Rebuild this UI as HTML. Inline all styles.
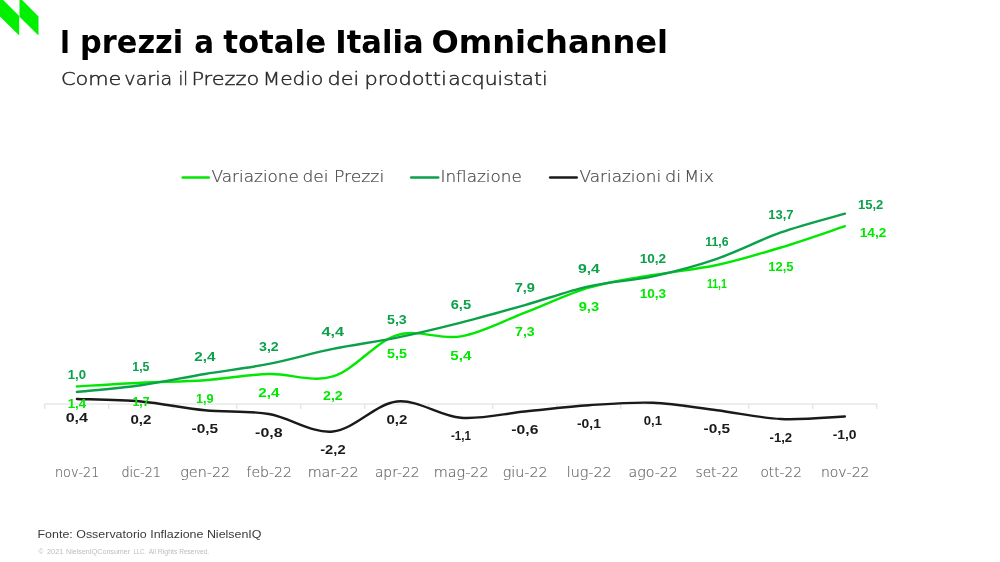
<!DOCTYPE html>
<html lang="it"><head><meta charset="utf-8"><title>I prezzi a totale Italia Omnichannel</title>
<style>
html,body{margin:0;padding:0;background:#fff;}
body{width:1000px;height:562px;overflow:hidden;position:relative;font-family:"Liberation Sans",sans-serif;}
svg{position:absolute;left:0;top:0;display:block}
text{font-family:"Liberation Sans",sans-serif;}
.title{font-family:"DejaVu Sans",sans-serif;font-weight:bold;font-size:31.5px;fill:#000}
.sub{stroke:#2a2a2a;stroke-width:0.45px;font-family:"DejaVu Sans Light","DejaVu Sans",sans-serif;font-weight:200;font-size:17.3px;fill:#2a2a2a}
.lg{font-family:"DejaVu Sans Light","DejaVu Sans",sans-serif;font-weight:200;font-size:16px;fill:#484848;stroke:#484848;stroke-width:0.2px}
.dl text{font-weight:bold;font-size:12.4px}
.ax text{font-family:"DejaVu Sans Light","DejaVu Sans",sans-serif;font-weight:200;font-size:14.3px;fill:#606060;stroke:#606060;stroke-width:0.15px}
.src{font-size:10.8px;fill:#3a3a3a}
.cp{font-size:7px;fill:#bcbcbc}
</style></head><body>
<svg width="1000" height="562" viewBox="0 0 1000 562">
<rect width="1000" height="562" fill="#fff"/>
<g fill="#00f000">
<path d="M0 -3.2 L19.2 16 V35.4 L0 16.4Z"/>
<path d="M19.5 -2.6 L38.5 16.4 V35.4 L19.5 16.8Z"/>
</g>
<text class="title" y="53.4"><tspan x="59.9" textLength="10.0" lengthAdjust="spacingAndGlyphs">I</tspan> <tspan x="80.1" textLength="103.1" lengthAdjust="spacingAndGlyphs">prezzi</tspan> <tspan x="194.3" textLength="19.8" lengthAdjust="spacingAndGlyphs">a</tspan> <tspan x="223.2" textLength="102.9" lengthAdjust="spacingAndGlyphs">totale</tspan> <tspan x="335.3" textLength="88.4" lengthAdjust="spacingAndGlyphs">Italia</tspan> <tspan x="431.4" textLength="236.7" lengthAdjust="spacingAndGlyphs">Omnichannel</tspan></text>
<text class="sub" y="85.3"><tspan x="61.0" textLength="60.4" lengthAdjust="spacingAndGlyphs">Come</tspan> <tspan x="124.3" textLength="48.0" lengthAdjust="spacingAndGlyphs">varia</tspan> <tspan x="178.5" textLength="9.5" lengthAdjust="spacingAndGlyphs">il</tspan> <tspan x="191.4" textLength="67.9" lengthAdjust="spacingAndGlyphs">Prezzo</tspan> <tspan x="262.7" textLength="60.7" lengthAdjust="spacingAndGlyphs">Medio</tspan> <tspan x="327.6" textLength="31.7" lengthAdjust="spacingAndGlyphs">dei</tspan> <tspan x="364.4" textLength="82.4" lengthAdjust="spacingAndGlyphs">prodotti</tspan> <tspan x="448.3" textLength="99.3" lengthAdjust="spacingAndGlyphs">acquistati</tspan></text>
<g fill="none" stroke-width="2.6" stroke-linecap="round">
<path stroke="#00e800" d="M182.7 177.5 H208.7"/>
<path stroke="#0ba14a" d="M411.2 177.5 H438.2"/>
<path stroke="#1a1a1a" d="M550.2 177.5 H576.7"/>
</g>
<text class="lg" y="181.7"><tspan x="211.6" textLength="87.3" lengthAdjust="spacingAndGlyphs">Variazione</tspan> <tspan x="302.5" textLength="26.0" lengthAdjust="spacingAndGlyphs">dei</tspan> <tspan x="333.9" textLength="50.3" lengthAdjust="spacingAndGlyphs">Prezzi</tspan></text>
<text class="lg" y="181.7"><tspan x="440.5" textLength="81.3" lengthAdjust="spacingAndGlyphs">Inflazione</tspan></text>
<text class="lg" y="181.7"><tspan x="579.6" textLength="81.5" lengthAdjust="spacingAndGlyphs">Variazioni</tspan> <tspan x="664.9" textLength="16.2" lengthAdjust="spacingAndGlyphs">di</tspan> <tspan x="684.2" textLength="29.9" lengthAdjust="spacingAndGlyphs">Mix</tspan></text>
<g stroke="#dcdcdc" stroke-width="1" fill="none">
<path d="M44.3 404.0 H877.3"/>
<path d="M44.8 404.0 v5"/>
<path d="M108.8 404.0 v5"/>
<path d="M172.8 404.0 v5"/>
<path d="M236.8 404.0 v5"/>
<path d="M300.8 404.0 v5"/>
<path d="M364.8 404.0 v5"/>
<path d="M428.8 404.0 v5"/>
<path d="M492.8 404.0 v5"/>
<path d="M556.8 404.0 v5"/>
<path d="M620.8 404.0 v5"/>
<path d="M684.8 404.0 v5"/>
<path d="M748.8 404.0 v5"/>
<path d="M812.8 404.0 v5"/>
<path d="M876.8 404.0 v5"/>
</g>
<g class="ax">
<text x="55.0" y="477.4" textLength="44.4" lengthAdjust="spacingAndGlyphs">nov-21</text>
<text x="121.4" y="477.4" textLength="39.6" lengthAdjust="spacingAndGlyphs">dic-21</text>
<text x="180.2" y="477.4" textLength="50.0" lengthAdjust="spacingAndGlyphs">gen-22</text>
<text x="246.5" y="477.4" textLength="45.4" lengthAdjust="spacingAndGlyphs">feb-22</text>
<text x="307.7" y="477.4" textLength="51.0" lengthAdjust="spacingAndGlyphs">mar-22</text>
<text x="374.9" y="477.4" textLength="44.6" lengthAdjust="spacingAndGlyphs">apr-22</text>
<text x="433.7" y="477.4" textLength="55.0" lengthAdjust="spacingAndGlyphs">mag-22</text>
<text x="502.8" y="477.4" textLength="44.8" lengthAdjust="spacingAndGlyphs">giu-22</text>
<text x="566.7" y="477.4" textLength="45.0" lengthAdjust="spacingAndGlyphs">lug-22</text>
<text x="628.6" y="477.4" textLength="49.2" lengthAdjust="spacingAndGlyphs">ago-22</text>
<text x="695.6" y="477.4" textLength="43.2" lengthAdjust="spacingAndGlyphs">set-22</text>
<text x="760.5" y="477.4" textLength="41.4" lengthAdjust="spacingAndGlyphs">ott-22</text>
<text x="820.9" y="477.4" textLength="48.6" lengthAdjust="spacingAndGlyphs">nov-22</text>
</g>
<g fill="none" stroke-width="2.4" stroke-linecap="round" stroke-linejoin="round">
<path stroke="#1a1a1a" d="M76.90 398.99 C87.57 399.41 119.57 399.62 140.90 401.50 C162.23 403.37 183.57 408.17 204.90 410.26 C226.23 412.35 247.57 410.47 268.90 414.02 C290.23 417.56 311.57 433.63 332.90 431.54 C354.23 429.46 375.57 403.79 396.90 401.50 C418.23 399.20 439.57 416.10 460.90 417.77 C482.23 419.44 503.57 413.60 524.90 411.51 C546.23 409.43 567.57 406.71 588.90 405.25 C610.23 403.79 631.57 401.91 652.90 402.75 C674.23 403.58 695.57 407.55 716.90 410.26 C738.23 412.97 759.57 417.98 780.90 419.02 C802.23 420.07 834.23 416.94 844.90 416.52"/>
<path stroke="#00e800" d="M76.90 386.47 C87.57 385.85 119.57 383.76 140.90 382.72 C162.23 381.67 183.57 381.67 204.90 380.21 C226.23 378.75 247.57 374.58 268.90 373.95 C290.23 373.33 311.57 382.92 332.90 376.46 C354.23 369.99 375.57 341.82 396.90 335.14 C418.23 328.46 439.57 340.15 460.90 336.39 C482.23 332.64 503.57 320.74 524.90 312.60 C546.23 304.47 567.57 293.82 588.90 287.56 C610.23 281.30 631.57 278.80 652.90 275.04 C674.23 271.29 695.57 269.62 716.90 265.03 C738.23 260.44 759.57 253.97 780.90 247.50 C802.23 241.03 834.23 229.76 844.90 226.22"/>
<path stroke="#0ba14a" d="M76.90 391.98 C87.57 390.85 119.57 388.22 140.90 385.22 C162.23 382.22 183.57 377.50 204.90 373.95 C226.23 370.40 247.57 368.11 268.90 363.94 C290.23 359.76 311.57 353.29 332.90 348.91 C354.23 344.53 375.57 342.03 396.90 337.64 C418.23 333.26 439.57 328.05 460.90 322.62 C482.23 317.19 503.57 311.14 524.90 305.09 C546.23 299.04 567.57 291.11 588.90 286.31 C610.23 281.51 631.57 280.89 652.90 276.30 C674.23 271.71 695.57 266.07 716.90 258.77 C738.23 251.46 759.57 239.99 780.90 232.48 C802.23 224.96 834.23 216.83 844.90 213.70"/>
</g>
<g class="dl" fill="#0ba14a">
<text x="67.8" y="378.7" textLength="18.3" lengthAdjust="spacingAndGlyphs">1,0</text>
<text x="132.3" y="370.8" textLength="17.2" lengthAdjust="spacingAndGlyphs">1,5</text>
<text x="194.3" y="360.7" textLength="21.2" lengthAdjust="spacingAndGlyphs">2,4</text>
<text x="259.0" y="350.6" textLength="19.8" lengthAdjust="spacingAndGlyphs">3,2</text>
<text x="321.6" y="335.6" textLength="22.5" lengthAdjust="spacingAndGlyphs">4,4</text>
<text x="387.0" y="324.3" textLength="19.8" lengthAdjust="spacingAndGlyphs">5,3</text>
<text x="450.7" y="309.3" textLength="20.4" lengthAdjust="spacingAndGlyphs">6,5</text>
<text x="514.7" y="291.8" textLength="20.3" lengthAdjust="spacingAndGlyphs">7,9</text>
<text x="578.0" y="273.0" textLength="21.8" lengthAdjust="spacingAndGlyphs">9,4</text>
<text x="639.7" y="263.0" textLength="26.5" lengthAdjust="spacingAndGlyphs">10,2</text>
<text x="705.3" y="245.5" textLength="23.2" lengthAdjust="spacingAndGlyphs">11,6</text>
<text x="768.3" y="219.2" textLength="25.3" lengthAdjust="spacingAndGlyphs">13,7</text>
<text x="857.9" y="208.5" textLength="25.4" lengthAdjust="spacingAndGlyphs">15,2</text>
</g>
<g class="dl" fill="#00e800">
<text x="67.7" y="408.3" textLength="18.5" lengthAdjust="spacingAndGlyphs">1,4</text>
<text x="132.4" y="405.8" textLength="17.1" lengthAdjust="spacingAndGlyphs">1,7</text>
<text x="196.0" y="403.3" textLength="17.7" lengthAdjust="spacingAndGlyphs">1,9</text>
<text x="258.3" y="397.1" textLength="21.2" lengthAdjust="spacingAndGlyphs">2,4</text>
<text x="323.0" y="399.6" textLength="19.8" lengthAdjust="spacingAndGlyphs">2,2</text>
<text x="387.0" y="358.2" textLength="19.9" lengthAdjust="spacingAndGlyphs">5,5</text>
<text x="450.3" y="359.5" textLength="21.2" lengthAdjust="spacingAndGlyphs">5,4</text>
<text x="515.0" y="335.7" textLength="19.7" lengthAdjust="spacingAndGlyphs">7,3</text>
<text x="578.7" y="310.7" textLength="20.4" lengthAdjust="spacingAndGlyphs">9,3</text>
<text x="639.7" y="298.1" textLength="26.5" lengthAdjust="spacingAndGlyphs">10,3</text>
<text x="706.9" y="288.1" textLength="20.0" lengthAdjust="spacingAndGlyphs">11,1</text>
<text x="768.2" y="270.6" textLength="25.4" lengthAdjust="spacingAndGlyphs">12,5</text>
<text x="859.7" y="236.8" textLength="26.7" lengthAdjust="spacingAndGlyphs">14,2</text>
</g>
<g class="dl" fill="#1a1a1a">
<text x="65.7" y="421.5" textLength="22.3" lengthAdjust="spacingAndGlyphs">0,4</text>
<text x="130.4" y="424.0" textLength="21.0" lengthAdjust="spacingAndGlyphs">0,2</text>
<text x="191.6" y="432.8" textLength="26.6" lengthAdjust="spacingAndGlyphs">-0,5</text>
<text x="255.1" y="436.5" textLength="27.5" lengthAdjust="spacingAndGlyphs">-0,8</text>
<text x="320.2" y="454.0" textLength="25.4" lengthAdjust="spacingAndGlyphs">-2,2</text>
<text x="386.4" y="424.0" textLength="21.0" lengthAdjust="spacingAndGlyphs">0,2</text>
<text x="450.9" y="440.3" textLength="20.0" lengthAdjust="spacingAndGlyphs">-1,1</text>
<text x="511.3" y="434.0" textLength="27.1" lengthAdjust="spacingAndGlyphs">-0,6</text>
<text x="577.0" y="427.8" textLength="23.9" lengthAdjust="spacingAndGlyphs">-0,1</text>
<text x="643.8" y="425.2" textLength="18.3" lengthAdjust="spacingAndGlyphs">0,1</text>
<text x="703.6" y="432.8" textLength="26.6" lengthAdjust="spacingAndGlyphs">-0,5</text>
<text x="769.5" y="441.5" textLength="22.7" lengthAdjust="spacingAndGlyphs">-1,2</text>
<text x="832.7" y="439.4" textLength="23.9" lengthAdjust="spacingAndGlyphs">-1,0</text>
</g>
<text class="src" x="37.5" y="538.3" textLength="224" lengthAdjust="spacingAndGlyphs">Fonte: Osservatorio Inflazione NielsenIQ</text>
<text class="cp" y="553.5"><tspan x="38.6" textLength="4.9" lengthAdjust="spacingAndGlyphs">©</tspan> <tspan x="47.1" textLength="16.1" lengthAdjust="spacingAndGlyphs">2021</tspan> <tspan x="66.1" textLength="64.0" lengthAdjust="spacingAndGlyphs">NielsenIQConsumer</tspan> <tspan x="133.6" textLength="12.4" lengthAdjust="spacingAndGlyphs">LLC.</tspan> <tspan x="148.8" textLength="7.2" lengthAdjust="spacingAndGlyphs">All</tspan> <tspan x="157.8" textLength="19.6" lengthAdjust="spacingAndGlyphs">Rights</tspan> <tspan x="179.2" textLength="29.8" lengthAdjust="spacingAndGlyphs">Reserved.</tspan></text>
</svg>
</body></html>
